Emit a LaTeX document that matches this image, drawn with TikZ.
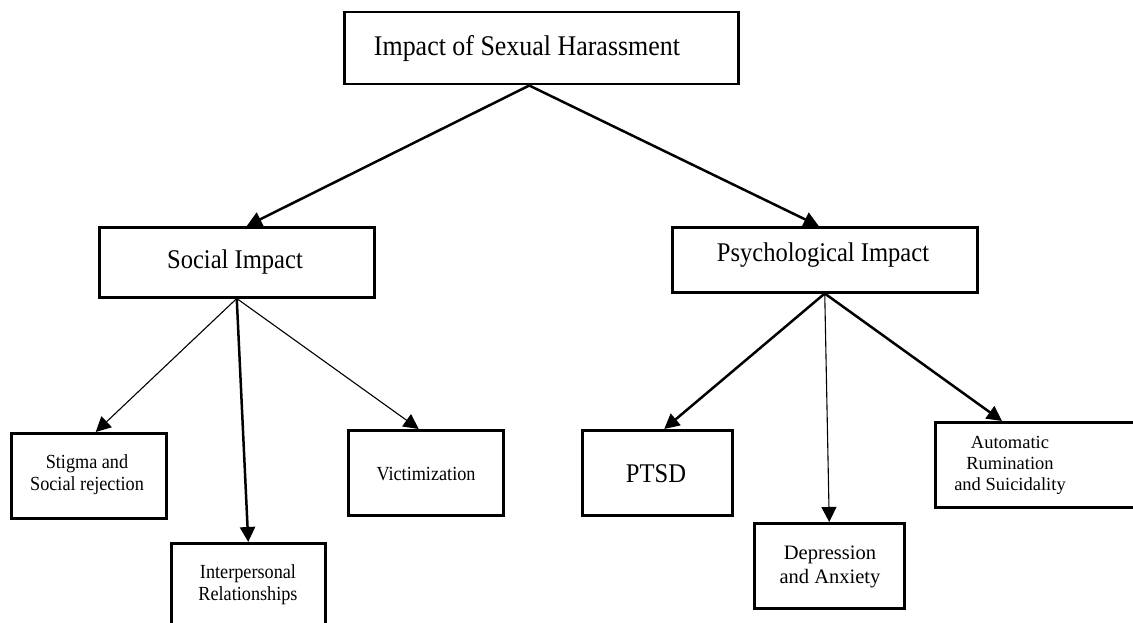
\documentclass[tikz,border=0pt]{standalone}
\usepackage{fontspec}
\setmainfont[FakeStretch=0.91]{Liberation Serif}
\newfontfamily\camfont{Liberation Serif}
\usetikzlibrary{arrows.meta}
\begin{document}
\begin{tikzpicture}[x=1pt,y=-1pt,
 box/.style={draw,line width=2.5pt,rectangle,inner sep=0pt,anchor=north west},
 thickarrow/.style={line width=2.5pt,-{Triangle[length=15pt,width=15pt]}},
 thinarrow/.style={line width=1.1pt,-{Triangle[length=15pt,width=15pt]}},
 big/.style={font=\fontsize{27}{32}\selectfont},
 small/.style={font=\fontsize{20}{22}\selectfont,align=center},
 cam/.style={font=\camfont\fontsize{20.5}{23.5}\selectfont,align=center}
]
\useasboundingbox (0,0) rectangle (1133,623);
% boxes
\node[box,minimum width=394pt,minimum height=72pt] (top) at (343,11) {};
\node[box,minimum width=275pt,minimum height=70pt] (soc) at (98,226) {};
\node[box,minimum width=305pt,minimum height=65pt] (psy) at (671,226) {};
\node[box,minimum width=155pt,minimum height=85pt] (stig) at (10,432) {};
\node[box,minimum width=154pt,minimum height=100pt] (inter) at (170,542) {};
\node[box,minimum width=155pt,minimum height=85pt] (vict) at (347,429) {};
\node[box,minimum width=150pt,minimum height=85pt] (ptsd) at (581,429) {};
\node[box,minimum width=150pt,minimum height=85pt] (dep) at (753,522) {};
\node[box,minimum width=220pt,minimum height=85pt] (auto) at (934,421) {};
% texts
\node[font=\fontsize{28.5}{32}\selectfont] (ttop) at (527,49) {Impact of Sexual Harassment};
\node[big] (tsoc) at (235,262) {Social Impact};
\node[big] (tpsy) at (823,255) {Psychological Impact};
\node[small] (tstig) at (87,475) {Stigma and\\Social rejection};
\node[small] (tinter) at (248,585) {Interpersonal\\Relationships};
\node[small] (tvict) at (426,474) {Victimization};
\node[big] (tptsd) at (656,474) {PTSD};
\node[cam] (tdep) at (830,567) {Depression\\and Anxiety};
\node[cam,font=\camfont\fontsize{18.5}{21}\selectfont] (tauto) at (1010,465) {Automatic\\Rumination\\and Suicidality};
% connectors
\draw[thickarrow] ([xshift=-12pt]top.south) -- ([xshift=10pt]soc.north);
\draw[thickarrow] ([xshift=-12pt]top.south) -- ([xshift=-6pt]psy.north);
\draw[thinarrow] (soc.south) -- ([xshift=7pt]stig.north);
\draw[thickarrow] (soc.south) -- (inter.north);
\draw[thinarrow] (soc.south) -- ([xshift=-7pt]vict.north);
\draw[thickarrow] (psy.south) -- ([xshift=7pt]ptsd.north);
\draw[thinarrow] (psy.south) -- (dep.north);
\draw[thickarrow] (psy.south) -- ([xshift=68pt]auto.north west);
\end{tikzpicture}
\end{document}
